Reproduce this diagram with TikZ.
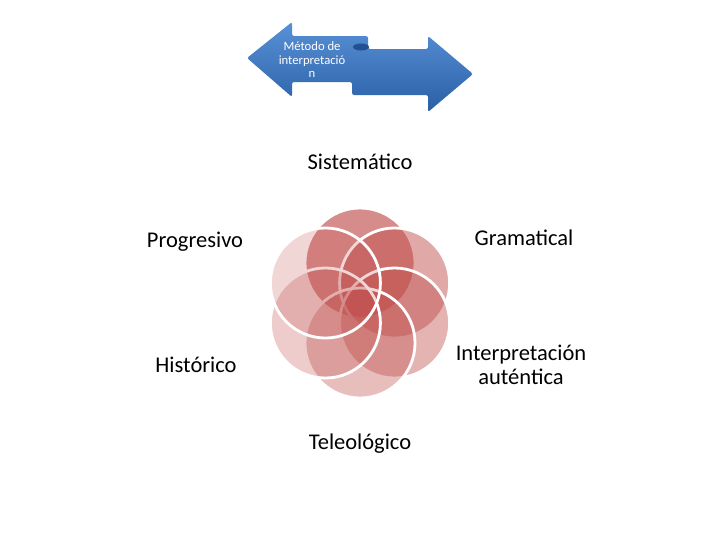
\documentclass[tikz,border=0pt]{standalone}
\usepackage{fontspec}
\setmainfont{Carlito}
\definecolor{ringred}{HTML}{C0504D}
\definecolor{arrowtop}{RGB}{88,145,215}
\definecolor{arrowbot}{RGB}{42,95,165}
\definecolor{curl}{RGB}{35,80,145}
\begin{document}
\begin{tikzpicture}[x=0.025cm,y=-0.025cm,
  ring/.style={circle, minimum size=2.75cm, inner sep=0pt, draw=white, line width=2pt, fill=ringred, fill opacity=#1},
  lbl/.style={font=\fontsize{16}{17}\selectfont, text=black, align=center, inner sep=0pt},
  arrowtxt/.style={font=\fontsize{9}{9.6}\selectfont, text=white, align=center, inner sep=0pt}]
\useasboundingbox (0,0) rectangle (720,540);
% double arrow
\path[top color=arrowtop, bottom color=arrowbot, rounded corners=1.5]
  (247,58) -- (292,22) -- (292,36) -- (368,36) -- (368,49) -- (428,49) -- (428,36)
  -- (473,74) -- (428,112) -- (428,95) -- (352,95) -- (352,82) -- (292,82) -- (292,97) -- cycle;
\fill[curl] (361,47) ellipse (8 and 3.5);
\node[arrowtxt] (arrowlbl) at (312,60) {Método de\\interpretació\\n};
% rings
\node[ring=0.66] (c1) at (360,263) {};
\node[ring=0.49] (c2) at (394.6,283) {};
\node[ring=0.43] (c3) at (394.6,323) {};
\node[ring=0.37] (c4) at (360,343) {};
\node[ring=0.29] (c5) at (325.4,323) {};
\node[ring=0.23] (c6) at (325.4,283) {};
% labels
\node[lbl] (sis) at (360,162) {Sistemático};
\node[lbl] (gra) at (524,238) {Gramatical};
\node[lbl] (int) at (521,365) {Interpretación\\auténtica};
\node[lbl] (tel) at (360,444) {Teleológico};
\node[lbl] (his) at (196,365) {Histórico};
\node[lbl] (pro) at (195,242) {Progresivo};
\end{tikzpicture}
\end{document}
